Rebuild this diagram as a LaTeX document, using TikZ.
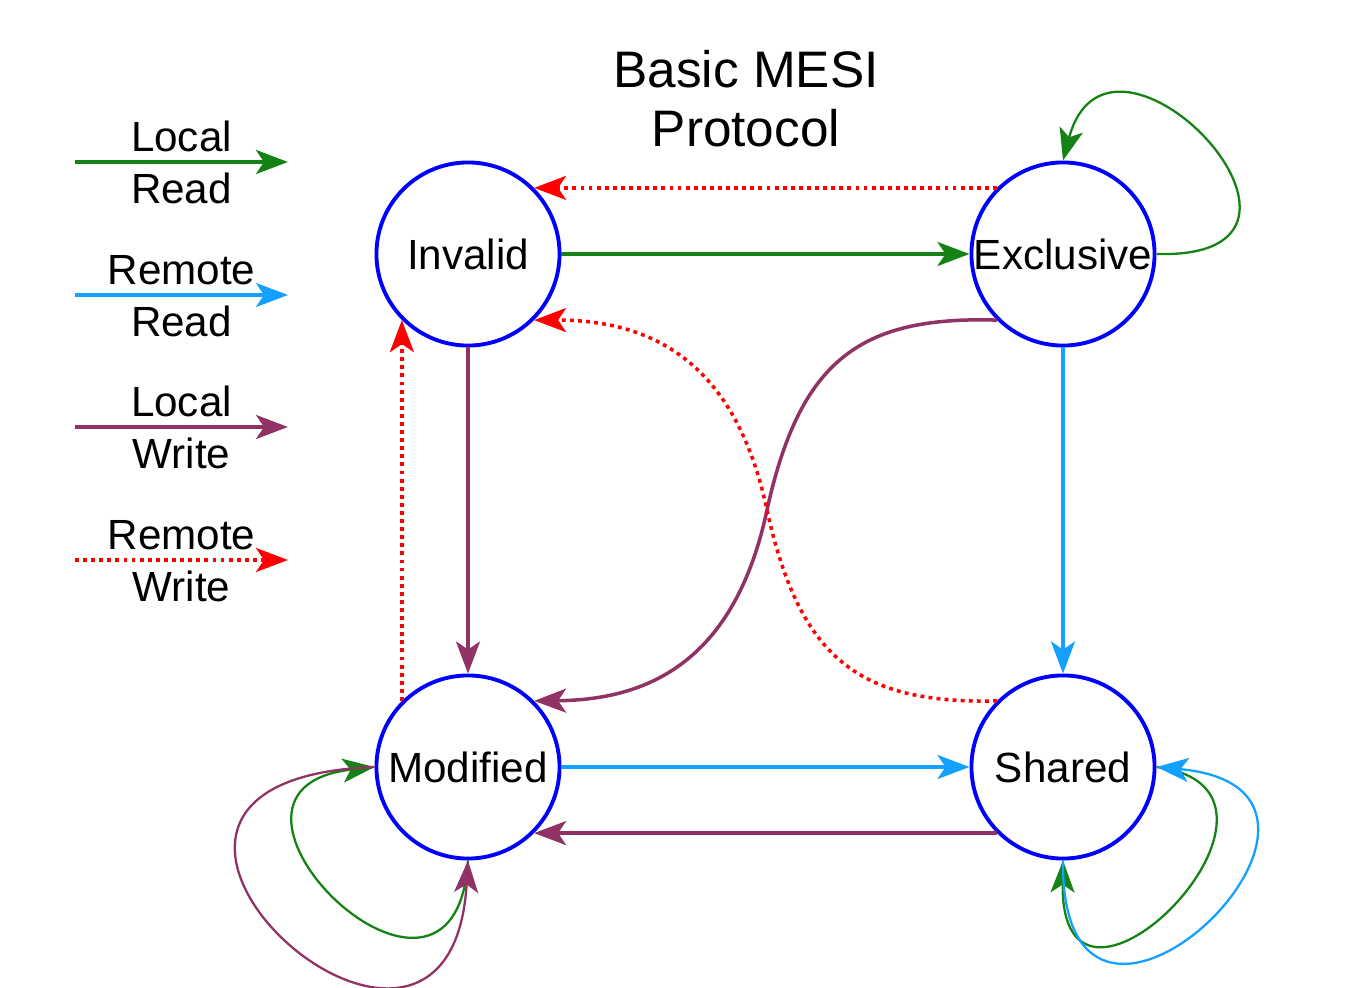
\documentclass[tikz,border=0pt]{standalone}
\usepackage{fontspec}
\setmainfont{Liberation Sans}
\usepackage{tikz}
\usetikzlibrary{arrows.meta, positioning}
\definecolor{ringblue}{RGB}{0,0,255}
\definecolor{lrgreen}{RGB}{20,130,20}
\definecolor{rrblue}{RGB}{20,160,255}
\definecolor{lwpurple}{RGB}{145,50,100}
\definecolor{rwred}{RGB}{255,0,0}
\tikzset{
  statenode/.style={circle, draw=ringblue, line width=1.1pt,
    minimum size=1.83cm, inner sep=0pt, font=\fontsize{12}{14}\selectfont},
  tip/.style={-{Stealth[length=3.2mm, width=2.4mm, inset=0.8mm]}},
  lrarrow/.style={tip, line width=1pt, color=lrgreen},
  rrarrow/.style={tip, line width=1pt, color=rrblue},
  lwarrow/.style={tip, line width=1pt, color=lwpurple},
  rwarrow/.style={tip, line width=1pt, color=rwred,
    dash pattern=on 1.1pt off 1.2pt},
  thinloop/.style={line width=0.65pt},
  legendtext/.style={font=\fontsize{12}{14}\selectfont, inner sep=2.5pt, text=black}
}

\begin{document}
\begin{tikzpicture}[x=0.01cm, y=-0.01cm]
  \useasboundingbox (0,0) rectangle (1369,988);

  % Title
  \node[align=center, font=\fontsize{14.6}{16.7}\selectfont] (title) at (746,99) {Basic MESI\\Protocol};

  % Legend
  \coordinate (lr1) at (75,162);  \coordinate (lr2) at (288,162);
  \coordinate (rr1) at (75,295);  \coordinate (rr2) at (288,295);
  \coordinate (lw1) at (75,427);  \coordinate (lw2) at (288,427);
  \coordinate (rw1) at (75,560);  \coordinate (rw2) at (288,560);
  \draw[lrarrow] (lr1) -- (lr2)
    node[legendtext, midway, above] (lrtop) {Local}
    node[legendtext, midway, below] (lrbot) {Read};
  \draw[rrarrow] (rr1) -- (rr2)
    node[legendtext, midway, above] (rrtop) {Remote}
    node[legendtext, midway, below] (rrbot) {Read};
  \draw[lwarrow] (lw1) -- (lw2)
    node[legendtext, midway, above] (lwtop) {Local}
    node[legendtext, midway, below] (lwbot) {Write};
  \draw[rwarrow] (rw1) -- (rw2)
    node[legendtext, midway, above] (rwtop) {Remote}
    node[legendtext, midway, below] (rwbot) {Write};

  % States
  \node[statenode] (inv) at (468,254) {Invalid};
  \node[statenode] (exc) at (1063,254) {Exclusive};
  \node[statenode] (mod) at (468,767) {Modified};
  \node[statenode] (sha) at (1063,767) {Shared};

  % Straight transitions
  \draw[lrarrow] (inv.east) -- (exc.west);
  \draw[rwarrow] (exc.135) -- (inv.45);
  \draw[lwarrow] (inv.south) -- (mod.north);
  \draw[rwarrow] (mod.135) -- (inv.225);
  \draw[rrarrow] (exc.south) -- (sha.north);
  \draw[rrarrow] (mod.east) -- (sha.west);
  \draw[lwarrow] (sha.225) -- (mod.315);

  % Crossing curves
  \draw[lwarrow] (exc.225) .. controls (860,316) and (800,360) .. (767,510)
    .. controls (735,660) and (650,700) .. (mod.45);
  \draw[rwarrow] (sha.135) .. controls (860,704) and (800,660) .. (767,510)
    .. controls (735,360) and (650,320) .. (inv.315);

  % Self loops
  \draw[lrarrow, thinloop] (exc.east) .. controls (1370,260) and (1110,-15) .. (exc.north);
  \draw[lrarrow, thinloop] (mod.south) .. controls (455,1070) and (170,790) .. (mod.west);
  \draw[lwarrow, thinloop] (mod.west) .. controls (20,780) and (450,1170) .. (mod.south);
  \draw[lrarrow, thinloop] (sha.east) .. controls (1335,790) and (1060,1070) .. (sha.south);
  \draw[rrarrow, thinloop] (sha.south) .. controls (1060,1130) and (1410,790) .. (sha.east);
\end{tikzpicture}
\end{document}
